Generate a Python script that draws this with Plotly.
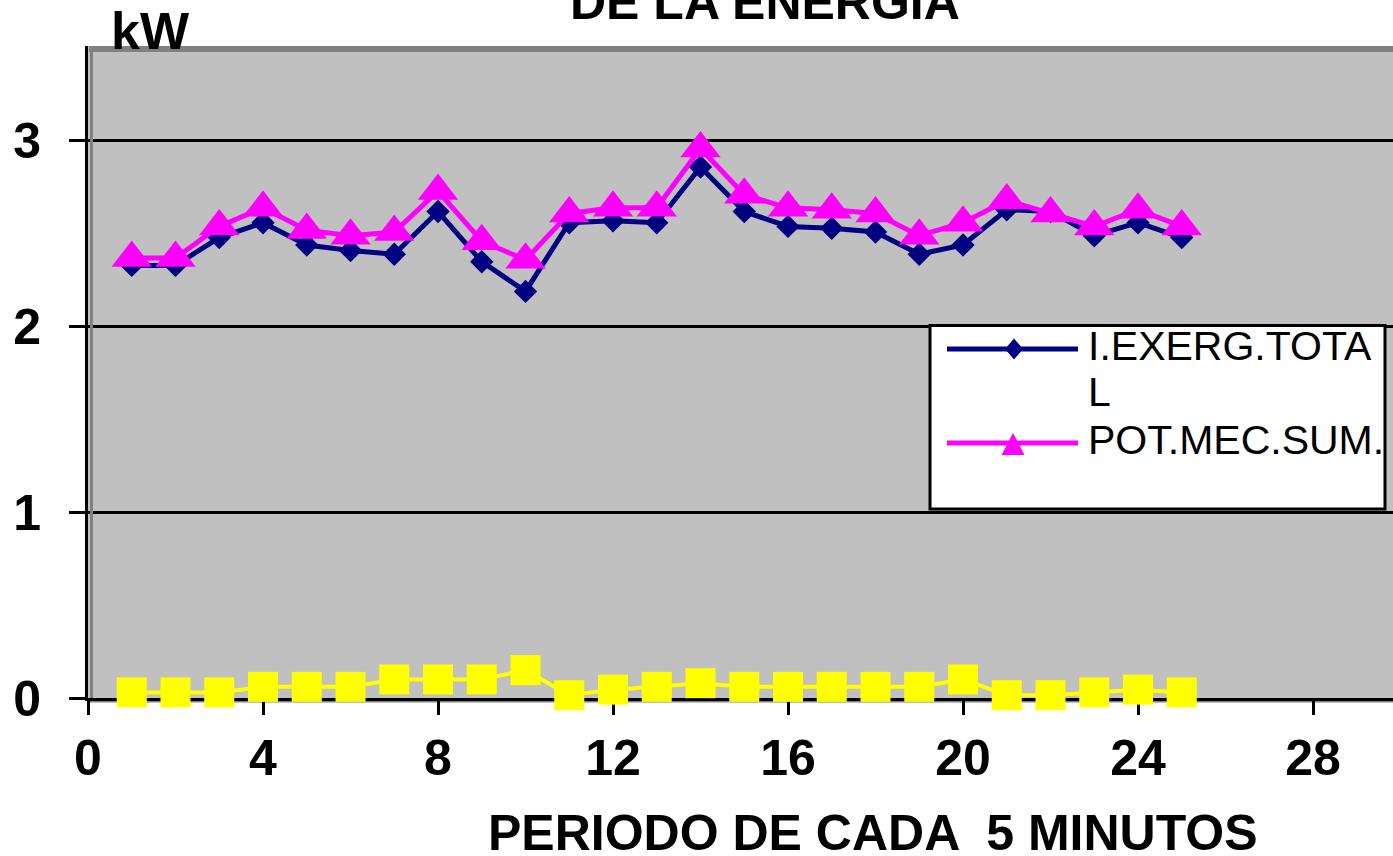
import plotly.graph_objects as go

# ---- data ----
periods = list(range(1, 26))
exerg_total = [2.33, 2.33, 2.48, 2.56, 2.44, 2.41, 2.39, 2.62, 2.35, 2.19,
               2.56, 2.57, 2.56, 2.86, 2.62, 2.54, 2.53, 2.51, 2.39, 2.44,
               2.63, 2.62, 2.49, 2.56, 2.48]
pot_mec_sum = [2.37, 2.37, 2.54, 2.64, 2.52, 2.49, 2.51, 2.73, 2.46, 2.36,
               2.61, 2.64, 2.64, 2.96, 2.71, 2.64, 2.63, 2.61, 2.49, 2.56,
               2.68, 2.61, 2.54, 2.63, 2.54]
third_series = [0.03, 0.03, 0.03, 0.06, 0.06, 0.06, 0.10, 0.10, 0.10, 0.15,
                0.015, 0.045, 0.06, 0.08, 0.06, 0.06, 0.06, 0.06, 0.06, 0.10,
                0.015, 0.015, 0.03, 0.045, 0.03]
x_ticks = [0, 4, 8, 12, 16, 20, 24, 28]
y_ticks = [0, 1, 2, 3]
legend_names = ["I.EXERG.TOTA", "L", "POT.MEC.SUM."]

W, H = 1393, 856
L, T, B = 88, 46, 158
PW, PH = W - L, H - T - B
BOTTOM = H - B


def X(px):
    return (px - L) / PW


def Y(py):
    return (BOTTOM - py) / PH


FONT = "Liberation Sans, Arial, sans-serif"

fig = go.Figure()
fig.add_trace(go.Scatter(x=periods, y=exerg_total, mode="lines+markers",
                         line=dict(color="#000080", width=5),
                         marker=dict(symbol="diamond", size=18, color="#000080"),
                         name="I.EXERG.TOTAL"))
fig.add_trace(go.Scatter(x=periods, y=pot_mec_sum, mode="lines+markers",
                         line=dict(color="#FF00FF", width=5),
                         marker=dict(symbol="triangle-up", size=35, color="#FF00FF"),
                         name="POT.MEC.SUM."))
fig.add_trace(go.Scatter(x=periods, y=third_series, mode="lines+markers",
                         line=dict(color="#FFFF00", width=4),
                         marker=dict(symbol="square", size=30, color="#FFFF00"),
                         cliponaxis=False, name=""))

tickfont = dict(family=FONT, size=50, color="black", weight="bold")

fig.update_xaxes(range=[0, PW / 43.75], tickvals=x_ticks, ticktext=[str(v) for v in x_ticks],
                 ticks="outside", ticklen=14, tickwidth=3, tickcolor="black",
                 showline=True, linecolor="black", linewidth=3, showgrid=False,
                 zeroline=False, tickfont=tickfont, layer="below traces",
                 ticklabelstandoff=0)
fig.update_yaxes(range=[0, (BOTTOM - T) / 185.67], tickvals=y_ticks,
                 ticks="outside", ticklen=16, tickwidth=3, tickcolor="black",
                 showline=True, linecolor="black", linewidth=3, showgrid=True,
                 gridcolor="black", gridwidth=3, zeroline=False, tickfont=tickfont,
                 layer="below traces", ticklabelstandoff=18)

shapes = [
    # plot-area gray border bits
    dict(type="rect", xref="paper", yref="paper", x0=X(89), x1=1, y0=Y(52), y1=1,
         fillcolor="#808080", line=dict(width=0), layer="above"),
    dict(type="rect", xref="paper", yref="paper", x0=X(90), x1=X(93), y0=0, y1=Y(52),
         fillcolor="#808080", line=dict(width=0), layer="above"),
    dict(type="rect", xref="paper", yref="paper", x0=X(88), x1=1, y0=Y(702.5), y1=Y(699.5),
         fillcolor="#808080", line=dict(width=0), layer="below"),
    # legend box
    dict(type="rect", xref="paper", yref="paper", x0=X(930), x1=X(1385), y0=Y(509), y1=Y(325.5),
         fillcolor="white", line=dict(color="black", width=3), layer="above"),
    dict(type="line", xref="paper", yref="paper", x0=X(947), x1=X(1078), y0=Y(349), y1=Y(349),
         line=dict(color="#000080", width=5), layer="above"),
    dict(type="path", xref="paper", yref="paper",
         path=f"M{X(1014)},{Y(338.5)} L{X(1023)},{Y(349)} L{X(1014)},{Y(359.5)} L{X(1005)},{Y(349)} Z",
         fillcolor="#000080", line=dict(width=0), layer="above"),
    dict(type="line", xref="paper", yref="paper", x0=X(947), x1=X(1078), y0=Y(443), y1=Y(443),
         line=dict(color="#FF00FF", width=5), layer="above"),
    dict(type="path", xref="paper", yref="paper",
         path=f"M{X(1013)},{Y(433)} L{X(1024.5)},{Y(455)} L{X(1001.5)},{Y(455)} Z",
         fillcolor="#FF00FF", line=dict(width=0), layer="above"),
]

annotations = [
    dict(text="DE LA ENERGIA", xref="paper", yref="paper", x=X(765), y=Y(2),
         xanchor="center", yanchor="middle", showarrow=False,
         font=dict(family=FONT, size=50, color="black", weight="bold")),
    dict(text="kW", xref="paper", yref="paper", x=X(150), y=Y(31),
         xanchor="center", yanchor="middle", showarrow=False,
         font=dict(family=FONT, size=52, color="black", weight="bold")),
    dict(text="PERIODO DE CADA  5 MINUTOS", xref="paper", yref="paper", x=X(873), y=Y(833),
         xanchor="center", yanchor="middle", showarrow=False,
         font=dict(family=FONT, size=50, color="black", weight="bold")),
    dict(text=legend_names[0], xref="paper", yref="paper", x=X(1086), y=Y(346),
         xanchor="left", yanchor="middle", showarrow=False,
         font=dict(family=FONT, size=41, color="black")),
    dict(text=legend_names[1], xref="paper", yref="paper", x=X(1086), y=Y(392),
         xanchor="left", yanchor="middle", showarrow=False,
         font=dict(family=FONT, size=41, color="black")),
    dict(text=legend_names[2], xref="paper", yref="paper", x=X(1086), y=Y(440),
         xanchor="left", yanchor="middle", showarrow=False,
         font=dict(family=FONT, size=41, color="black")),
]

fig.update_layout(width=W, height=H, margin=dict(l=L, r=0, t=T, b=B, pad=0),
                  plot_bgcolor="#C0C0C0", paper_bgcolor="white", showlegend=False,
                  shapes=shapes, annotations=annotations)

fig.write_html("out.html", config={"displayModeBar": False},
               post_script="document.body.style.margin='0';document.body.style.overflow='hidden';")
